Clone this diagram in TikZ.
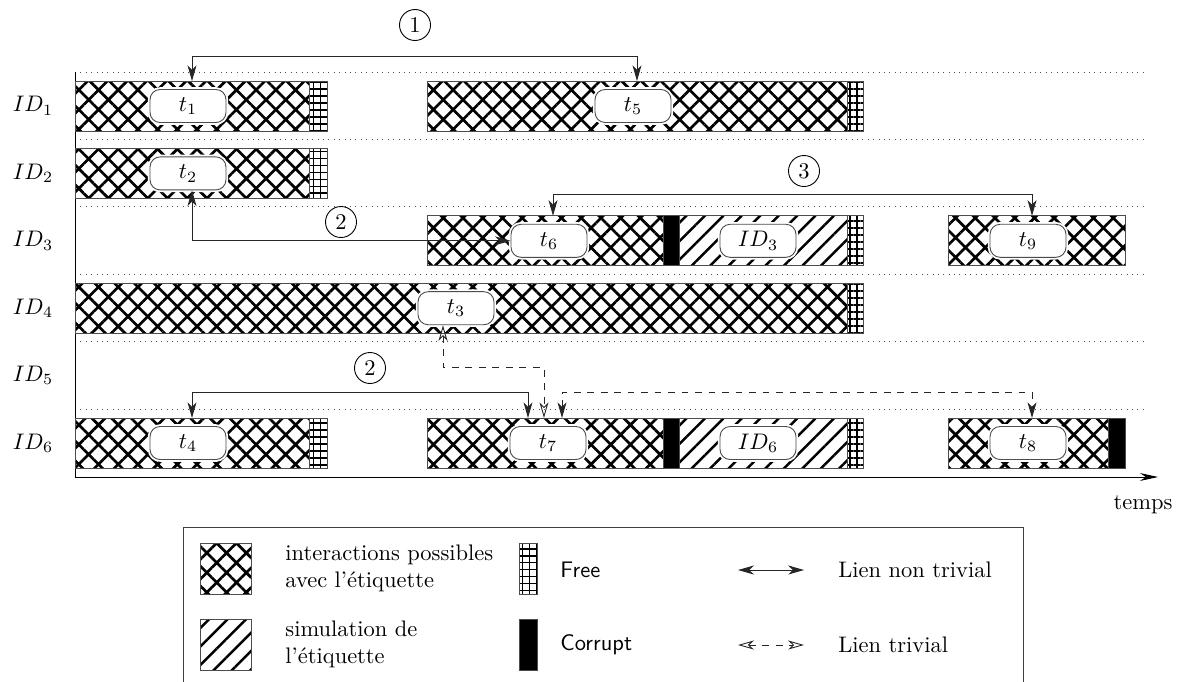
\documentclass[tikz,border=0pt]{standalone}
\usepackage{tikz}
\usetikzlibrary{positioning,arrows.meta,calc,patterns.meta}

\begin{document}
\begin{tikzpicture}[
  x=0.445pt, y=-0.445pt,
  >={Stealth[length=7pt,width=4pt,inset=2pt]},
  font=\normalsize,
  seg/.style     = {draw=black!70, line width=0.4pt},
  cross/.style   = {seg, pattern={Hatch[angle=45,distance=6.2pt,line width=1.2pt]}},
  simu/.style    = {seg, pattern={Lines[angle=45,distance=5.8pt,line width=1.1pt]}},
  free/.style    = {seg, pattern={Hatch[angle=0,distance=3.1pt,line width=0.8pt]}},
  corrupt/.style = {seg, fill=black},
  tag/.style     = {draw=black!70, fill=white, rounded corners=4.5pt,
                    minimum width=33.8pt, minimum height=14.7pt, inner sep=0pt,
                    preaction={draw=white, line width=2pt}},
  num/.style     = {circle, draw, inner sep=0.5pt, minimum size=13.8pt},
  rowline/.style = {dotted, black!70},
  lien/.style    = {<->, black!85},
  trivial/.style = {dashed, black!85,
                    {Stealth[open,length=7pt,width=4pt,inset=2pt]}-{Stealth[open,length=7pt,width=4pt,inset=2pt]}},
  trivfill/.style= {dashed, black!85, <->},
  legtext/.style = {anchor=west, align=left},
]
\useasboundingbox (0,0) rectangle (1181,681);

% rows and their names
\foreach \k in {1,...,6} {
  \draw[rowline] (75,{72+67.4*(\k-1)}) -- (1148,{72+67.4*(\k-1)});
  \node (id\k) at (33,{106+67.4*(\k-1)}) {$ID_{\k}$};
}

% time axis
\draw[-{Stealth[length=8pt,width=3.5pt]}] (75,72) -- (75,477) -- (1158,477);
\node (temps) at (1143,505) {temps};

% ID1
\draw[cross] (75,81) rectangle (309,131);
\draw[free] (309,81) rectangle (327,131);
\draw[cross] (427,81) rectangle (847,131);
\draw[free] (847,81) rectangle (863,131);
% ID2
\draw[cross] (75,148.4) rectangle (309,198.4);
\draw[free] (309,148.4) rectangle (327,198.4);
% ID3
\draw[cross] (427,215.8) rectangle (663,265.8);
\draw[corrupt] (663,215.8) rectangle (679,265.8);
\draw[simu] (679,215.8) rectangle (847,265.8);
\draw[free] (847,215.8) rectangle (863,265.8);
\draw[cross] (948,215.8) rectangle (1125,265.8);
% ID4
\draw[cross] (75,283.2) rectangle (847,333.2);
\draw[free] (847,283.2) rectangle (863,333.2);
% ID6
\draw[cross] (75,418) rectangle (309,468);
\draw[free] (309,418) rectangle (327,468);
\draw[cross] (427,418) rectangle (663,468);
\draw[corrupt] (663,418) rectangle (679,468);
\draw[simu] (679,418) rectangle (847,468);
\draw[free] (847,418) rectangle (863,468);
\draw[cross] (948,418) rectangle (1108,468);
\draw[corrupt] (1108,418) rectangle (1125,468);

% tags
\node[tag] (t1) at (188,106) {$t_1$};
\node[tag] (t5) at (633,106) {$t_5$};
\node[tag] (t2) at (188,173.4) {$t_2$};
\node[tag] (t6) at (549,240.8) {$t_6$};
\node[tag] (s3) at (758,240.8) {$ID_3$};
\node[tag] (t9) at (1028,240.8) {$t_9$};
\node[tag] (t3) at (456,308.2) {$t_3$};
\node[tag] (t4) at (188,443) {$t_4$};
\node[tag] (t7) at (548,443) {$t_7$};
\node[tag] (s6) at (758,443) {$ID_6$};
\node[tag] (t8) at (1028,443) {$t_8$};

% links
\node[num] (n1) at (415,25) {1};
\draw[lien] ($(t1.north)+(4,-8)$) -- ++(0,-24.5) -| ($(t5.north)+(4,-8)$);
\node[num] (n2) at (341,222) {2};
\draw[lien] ($(t2.south)+(4,0)$) |- (t6.west);
\node[num] (n3) at (804,171) {3};
\draw[lien] ($(t6.north)+(4,-8)$) -- ++(0,-21.8) -| ($(t9.north)+(4,-8)$);
\node[num] (n4) at (370,368) {2};
\draw[lien] ($(t4.north)+(4,-8)$) -- ++(0,-26) -| ($(t7.north)+(-20,-8)$);
\draw[trivial] ($(t3.south)+(-13,0)$) -- ++(0,42.3) -| ($(t7.north)+(-4,-8)$);
\draw[trivfill] ($(t7.north)+(14,-8)$) -- ++(0,-26) -| ($(t8.north)+(4,-8)$);

% legend
\draw[black!75] (183,527) rectangle (1023,690);
\draw[cross] (200,543) rectangle (251,594);
\node[legtext] (lg1) at (277.5,568.5) {interactions possibles\\avec l'étiquette};
\draw[simu] (200,619) rectangle (251,670);
\node[legtext] (lg2) at (277.5,644.5) {simulation de\\l'étiquette};
\draw[free] (519,543) rectangle (537,594);
\node[legtext, font=\sffamily] (lg3) at (552.5,570) {Free};
\draw[corrupt] (519,619) rectangle (537,670);
\node[legtext, font=\sffamily] (lg4) at (552.5,645) {Corrupt};
\coordinate (la) at (738,570);
\coordinate (lb) at (804,570);
\draw[lien] (la) -- (lb);
\node[legtext] (lg5) at (830.5,570) {Lien non trivial};
\coordinate (lc) at (738,645);
\coordinate (ld) at (804,645);
\draw[trivial] (lc) -- (ld);
\node[legtext] (lg6) at (830.5,645) {Lien trivial};
\end{tikzpicture}
\end{document}
